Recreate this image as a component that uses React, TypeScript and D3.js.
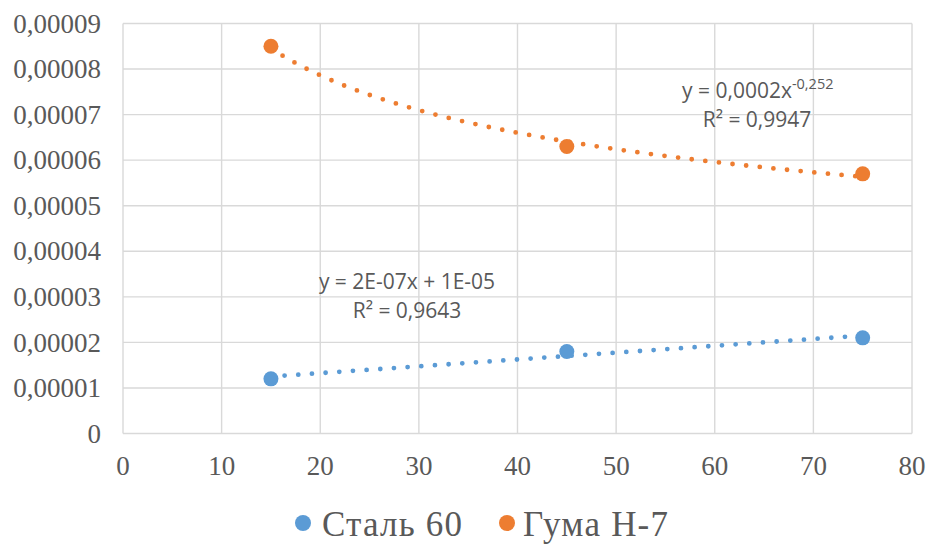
import React from 'react';
import * as d3 from 'd3';

const xValues = [15, 45, 75];
const steelValues = [0.000012, 0.000018, 0.000021];
const rubberValues = [0.000085, 0.000063, 0.000057];
const seriesNames = ['Сталь 60', 'Гума Н-7'];
const xTicks = [0, 10, 20, 30, 40, 50, 60, 70, 80];
const yTicks = [0, 0.00001, 0.00002, 0.00003, 0.00004, 0.00005, 0.00006, 0.00007, 0.00008, 0.00009];
const steelLabel = ['y = 2E-07x + 1E-05', 'R² = 0,9643'];
const rubberLabel = ['y = 0,0002x', '-0,252', 'R² = 0,9947'];

const blue = '#5B9BD5';
const orange = '#ED7D31';

// least squares fits, like the spreadsheet trendlines
function linearFit(xs: number[], ys: number[]) {
  const mx = d3.mean(xs)!;
  const my = d3.mean(ys)!;
  const sxy = d3.sum(xs, (x, i) => (x - mx) * (ys[i] - my));
  const sxx = d3.sum(xs, (x) => (x - mx) * (x - mx));
  const b = sxy / sxx;
  return (x: number) => my - b * mx + b * x;
}

function powerFit(xs: number[], ys: number[]) {
  const f = linearFit(xs.map(Math.log), ys.map(Math.log));
  return (x: number) => Math.exp(f(Math.log(x)));
}

export default function App() {
  const width = 930;
  const height = 544;
  const margin = { top: 23.5, right: 18, bottom: 110.5, left: 123 };

  const x = d3.scaleLinear().domain([0, 80]).range([margin.left, width - margin.right]);
  const y = d3.scaleLinear().domain([0, 0.00009]).range([height - margin.bottom, margin.top]);

  const steelFit = linearFit(xValues, steelValues);
  const rubberFit = powerFit(xValues, rubberValues);
  const xs = d3.range(15, 75.01, 0.5);

  const steelPath = d3.line<number>().x((d) => x(d)).y((d) => y(steelFit(d)))(xs);
  const rubberPath = d3.line<number>().x((d) => x(d)).y((d) => y(rubberFit(d)))(xs);

  const axisFont = { fontFamily: '"Liberation Serif", "Times New Roman", serif', fill: '#595959' };
  const labelFont = { fontFamily: '"Open Sans", sans-serif', fill: '#595959', fontSize: 21 };

  return (
    <svg width={width} height={height} style={{ position: 'absolute', left: 0, top: 0, background: '#fff' }}>
      <rect width={width} height={height} fill="#fff" />
      <g>
        {yTicks.map((t) => (
          <line key={'gy' + t} x1={x(0)} x2={x(80)} y1={y(t)} y2={y(t)} stroke="#D9D9D9" strokeWidth={1.4} />
        ))}
        {xTicks.map((t) => (
          <line key={'gx' + t} x1={x(t)} x2={x(t)} y1={y(0)} y2={y(0.00009)} stroke="#D9D9D9" strokeWidth={1.4} />
        ))}
      </g>
      <g style={axisFont} fontSize={27}>
        {yTicks.map((t) => (
          <text key={'ty' + t} x={x(0) - 22} y={y(t)} dy="0.34em" textAnchor="end">
            {t === 0 ? '0' : d3.format('.5f')(t).replace('.', ',')}
          </text>
        ))}
        {xTicks.map((t) => (
          <text key={'tx' + t} x={x(t)} y={y(0) + 41} textAnchor="middle">
            {t}
          </text>
        ))}
      </g>
      <path d={steelPath!} fill="none" stroke={blue} strokeWidth={4.8} strokeLinecap="round" strokeDasharray="0 13.7" />
      <path d={rubberPath!} fill="none" stroke={orange} strokeWidth={4.8} strokeLinecap="round" strokeDasharray="0 13.7" />
      {xValues.map((v, i) => (
        <circle key={'s' + i} cx={x(v)} cy={y(steelValues[i])} r={7.5} fill={blue} />
      ))}
      {xValues.map((v, i) => (
        <circle key={'r' + i} cx={x(v)} cy={y(rubberValues[i])} r={7.5} fill={orange} />
      ))}
      <g style={labelFont}>
        <text x={407} y={289} textAnchor="middle">{steelLabel[0]}</text>
        <text x={407} y={318} textAnchor="middle">{steelLabel[1]}</text>
        <text x={682} y={98}>
          {rubberLabel[0]}
          <tspan dy={-9} fontSize={14.5}>{rubberLabel[1]}</tspan>
        </text>
        <text x={757} y={127} textAnchor="middle">{rubberLabel[2]}</text>
      </g>
      <g style={axisFont} fontSize={35} letterSpacing={1.2}>
        <circle cx={303} cy={523} r={8} fill={blue} />
        <text x={322} y={536}>{seriesNames[0]}</text>
        <circle cx={507} cy={523} r={8} fill={orange} />
        <text x={523} y={536}>{seriesNames[1]}</text>
      </g>
    </svg>
  );
}
